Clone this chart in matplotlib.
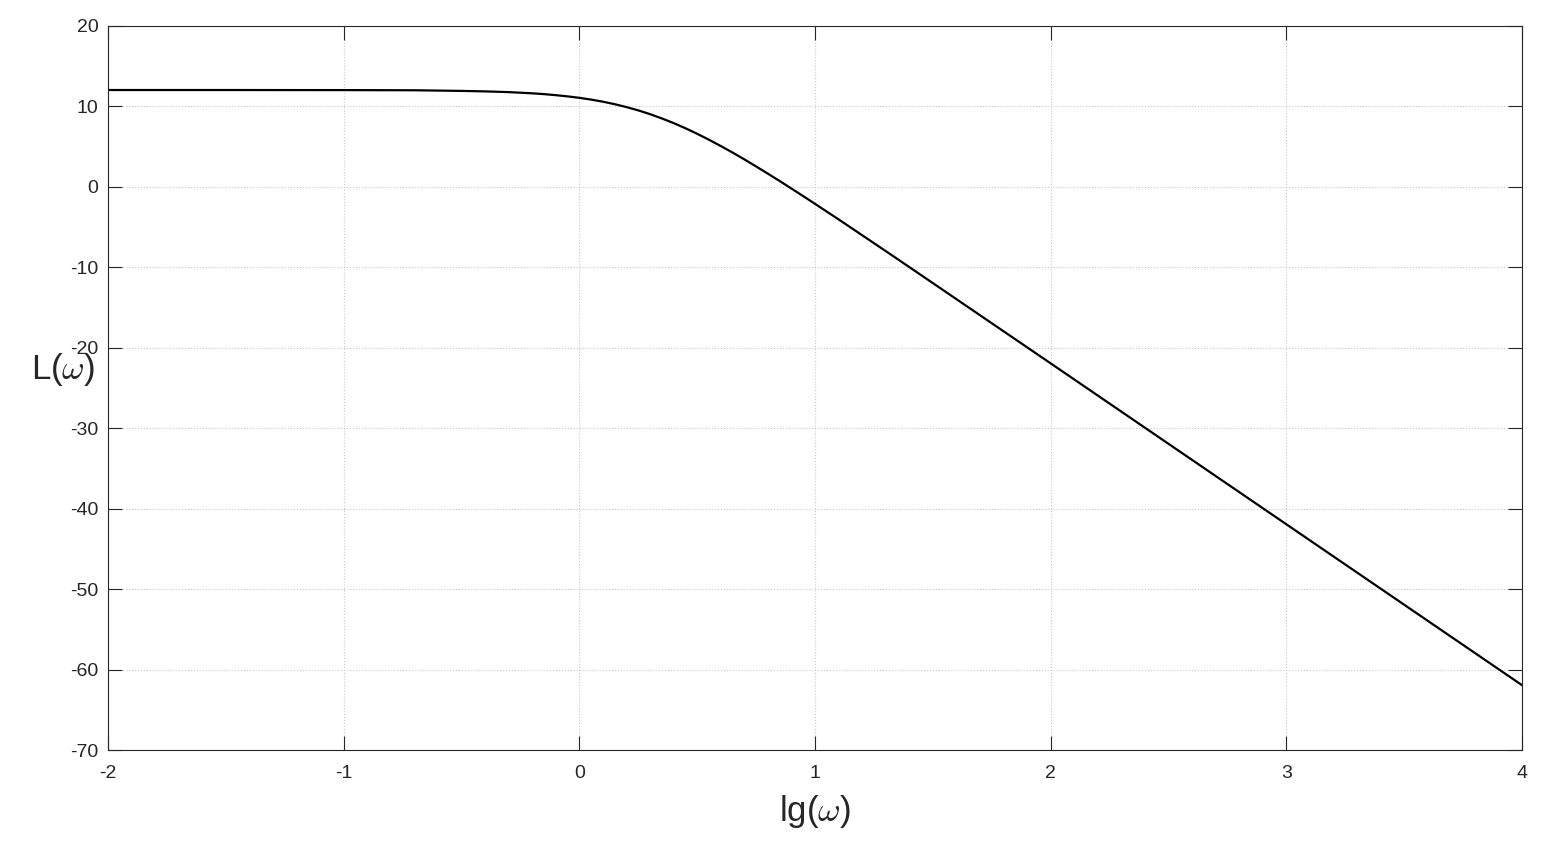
import matplotlib
matplotlib.use("Agg")
import matplotlib.pyplot as plt

# lg(w) and L(w)
lg_w = [-2.0, -1.5, -1.0, -0.7, -0.5, -0.4, -0.3, -0.2, -0.15, -0.1, -0.05,
        0.0, 0.05, 0.1, 0.15, 0.2, 0.25, 0.3, 0.35, 0.4, 0.45, 0.5, 0.55,
        0.6, 0.65, 0.7, 0.75, 0.8, 0.85, 0.9, 0.95, 1.0, 1.1, 1.2, 1.35,
        1.5, 1.75, 2.0, 2.5, 3.0, 3.5, 4.0]
L_w = [12.04, 12.04, 12.03, 12.01, 11.93, 11.87, 11.78, 11.63, 11.53, 11.40,
       11.25, 11.07, 10.85, 10.59, 10.28, 9.92, 9.51, 9.04, 8.51, 7.93, 7.29,
       6.60, 5.86, 5.08, 4.27, 3.42, 2.54, 1.64, 0.73, -0.21, -1.15, -2.11,
       -4.04, -6.01, -8.97, -11.96, -16.95, -21.94, -31.94, -41.94, -51.94,
       -61.94]

x_ticks = [-2, -1, 0, 1, 2, 3, 4]
y_ticks = [20, 10, 0, -10, -20, -30, -40, -50, -60, -70]

plt.rcParams['font.family'] = ['Liberation Sans', 'DejaVu Sans']
plt.rcParams['mathtext.fontset'] = 'cm'
plt.rcParams['axes.unicode_minus'] = False

fig = plt.figure(figsize=(15.43, 8.41), dpi=100)
ax = fig.add_axes([0.070, 0.1082, 0.9164, 0.8609])

ax.plot(lg_w, L_w, color='black', linewidth=1.6)

ax.set_xlim(-2, 4)
ax.set_ylim(-70, 20)
ax.set_xticks(x_ticks)
ax.set_yticks(y_ticks)
ax.grid(True, color='#c8c8c8', linestyle=':', linewidth=0.8)

ax.tick_params(direction='in', length=10, width=0.8, colors='#262626',
               labelsize=14, top=True, right=True, pad=7)
ax.tick_params(axis='x', pad=11)
for s in ax.spines.values():
    s.set_color('#262626')
    s.set_linewidth(0.8)

ax.set_xlabel(r'lg($\omega$)', fontsize=25, color='#262626', labelpad=8)
ax.set_ylabel(r'L($\omega$)', fontsize=25, color='#262626', rotation=0)
ax.yaxis.set_label_coords(-0.032, 0.50)

fig.savefig('out.png', dpi=100)
